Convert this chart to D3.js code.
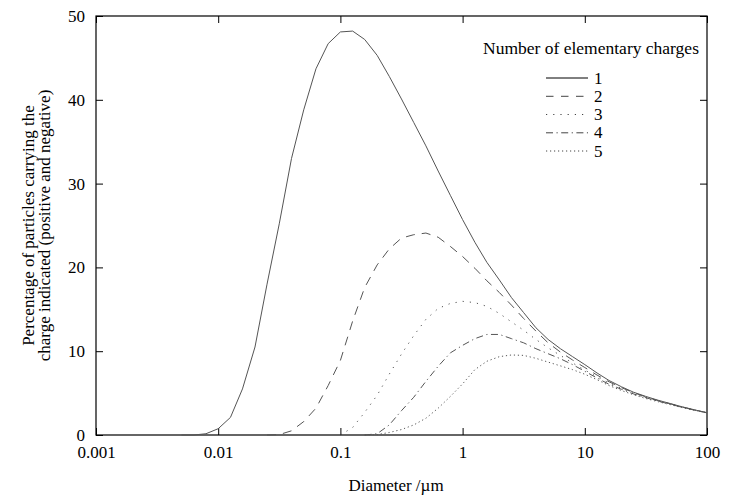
<!DOCTYPE html>
<html>
<head>
<meta charset="utf-8">
<script src="https://cdn.jsdelivr.net/npm/d3@7"></script>
<style>
  html, body { margin: 0; padding: 0; background: #fff; }
  svg { display: block; }
  text { font-family: "Liberation Serif", "Times New Roman", serif; fill: #000; }
</style>
</head>
<body>
<svg id="chart" width="729" height="495"></svg>
<script>
// Particle diameter (µm)
const diameters = [0.00501, 0.00631, 0.00794, 0.01, 0.0126, 0.0158, 0.02, 0.0251, 0.0316, 0.0398,
  0.0501, 0.0631, 0.0794, 0.1, 0.126, 0.158, 0.2, 0.251, 0.316, 0.398,
  0.501, 0.631, 0.794, 1, 1.26, 1.58, 2.0, 2.51, 3.16, 3.98,
  5.01, 6.31, 7.94, 10, 12.6, 15.8, 20, 25.1, 31.6, 39.8,
  50.1, 63.1, 79.4, 100];

// Percentage of particles carrying N charges (positive and negative)
const charge1 = [0, 0, 0.15, 0.75, 2.1, 5.5, 10.5, 18.0, 25.2, 33.0,
  38.8, 43.7, 46.7, 48.1, 48.2, 47.2, 45.3, 42.8, 40.1, 37.3,
  34.5, 31.5, 28.6, 25.7, 23.0, 20.6, 18.5, 16.4, 14.6, 12.8,
  11.4, 10.3, 9.35, 8.4, 7.4, 6.5, 5.75, 5.1, 4.6, 4.15,
  3.75, 3.35, 3.0, 2.66];
const charge2 = [null, null, null, null, null, null, null, 0, 0.05, 0.5,
  1.6, 3.2, 5.9, 8.9, 13.6, 17.6, 20.3, 22.2, 23.5, 23.9,
  24.1, 23.6, 22.5, 21.3, 19.9, 18.4, 17.0, 15.5, 13.9, 12.4,
  11.0, 9.9, 8.95, 8.05, 7.15, 6.35, 5.65, 5.05, 4.55, 4.1,
  3.72, 3.33, 2.98, 2.65];
const charge3 = [null, null, null, null, null, null, null, null, null, null,
  null, null, null, 0, 0.9, 2.7, 4.75, 7.25, 9.65, 11.85,
  13.8, 15.1, 15.7, 15.95, 15.8, 15.35, 14.5, 13.5, 12.5, 11.4,
  10.4, 9.5, 8.6, 7.75, 6.95, 6.2, 5.55, 5.0, 4.5, 4.07,
  3.7, 3.31, 2.97, 2.65];
const charge4 = [null, null, null, null, null, null, null, null, null, null,
  null, null, null, null, null, 0, 0.15, 1.2, 2.9, 4.5,
  6.4, 8.2, 9.8, 10.7, 11.5, 12.0, 12.0, 11.5, 11.0, 10.3,
  9.7, 9.1, 8.4, 7.6, 6.8, 6.05, 5.45, 4.9, 4.45, 4.03,
  3.67, 3.29, 2.96, 2.65];
const charge5 = [null, null, null, null, null, null, null, null, null, null,
  null, null, null, null, null, 0, 0.05, 0.3, 0.65, 1.2,
  2.0, 3.2, 4.6, 6.1, 7.8, 8.8, 9.35, 9.55, 9.5, 9.15,
  8.7, 8.25, 7.8, 7.25, 6.6, 5.9, 5.3, 4.8, 4.35, 3.97,
  3.62, 3.26, 2.94, 2.64];

const seriesNames = ["1", "2", "3", "4", "5"];
const seriesValues = [charge1, charge2, charge3, charge4, charge5];
const dashes = [null, "9,7", "1.2,6", "7,3.5,1.2,3.5", "1.2,2.8"];
const legendDashes = [null, "7.5,7.5", "1.2,6", "7,3.5,1.2,3.5", "1.2,2.8"];

const xTicks = [0.001, 0.01, 0.1, 1, 10, 100];
const xTickLabels = ["0.001", "0.01", "0.1", "1", "10", "100"];
const yTicks = [0, 10, 20, 30, 40, 50];

const xLabel = "Diameter /µm";
const yLabelLines = ["Percentage of particles carrying the", "charge indicated (positive and negative)"];
const legendTitle = "Number of elementary charges";

const svg = d3.select("#chart");
const pL = 96, pR = 707, pT = 16, pB = 435;

const x = d3.scaleLog().domain([0.001, 100]).range([pL, pR]);
const y = d3.scaleLinear().domain([0, 50]).range([pB, pT]);

const fs = 17;

// Axes with inward ticks
const axB = svg.append("g").attr("transform", `translate(0,${pB})`)
  .call(d3.axisBottom(x).tickValues(xTicks).tickFormat((d, i) => xTickLabels[i])
    .tickSizeInner(-7).tickSizeOuter(0).tickPadding(11));
const axT = svg.append("g").attr("transform", `translate(0,${pT})`)
  .call(d3.axisTop(x).tickValues(xTicks).tickFormat("").tickSizeInner(-7).tickSizeOuter(0));
const axL = svg.append("g").attr("transform", `translate(${pL},0)`)
  .call(d3.axisLeft(y).tickValues(yTicks).tickSizeInner(-7).tickSizeOuter(0).tickPadding(11));
const axR = svg.append("g").attr("transform", `translate(${pR},0)`)
  .call(d3.axisRight(y).tickValues(yTicks).tickFormat("").tickSizeInner(-7).tickSizeOuter(0));

[axB, axT, axL, axR].forEach(g => {
  g.select(".domain").remove();
  g.selectAll(".tick line").attr("stroke", "#000").attr("stroke-width", 1);
  g.selectAll(".tick text").attr("font-family", "Liberation Serif, Times New Roman, serif")
    .attr("font-size", fs).attr("fill", "#000");
});

// Frame
svg.append("rect").attr("x", pL).attr("y", pT)
  .attr("width", pR - pL).attr("height", pB - pT)
  .attr("fill", "none").attr("stroke", "#000").attr("stroke-width", 1.2);

// Curves
const line = d3.line()
  .defined(d => d[1] !== null)
  .x(d => x(d[0]))
  .y(d => y(d[1]));

seriesValues.forEach((vals, i) => {
  const pts = diameters.map((d, j) => [d, vals[j]]);
  svg.append("path")
    .attr("d", line(pts))
    .attr("fill", "none")
    .attr("stroke", "#555")
    .attr("stroke-width", 1)
    .attr("stroke-dasharray", dashes[i]);
});

// Axis labels
svg.append("text").attr("x", 396).attr("y", 491)
  .attr("text-anchor", "middle").attr("font-size", fs).text(xLabel);

const ylab = svg.append("g");
[28, 44].forEach((cx, i) => {
  ylab.append("text")
    .attr("transform", `translate(${cx},${(pT + pB) / 2}) rotate(-90)`)
    .attr("text-anchor", "middle").attr("dy", "0.35em")
    .attr("font-size", fs).text(yLabelLines[i]);
});

// Legend
svg.append("text").attr("x", 591).attr("y", 54)
  .attr("text-anchor", "middle").attr("font-size", 17.5).text(legendTitle);

const legendY = [78, 96.3, 114.5, 132.8, 151];
seriesNames.forEach((name, i) => {
  svg.append("line")
    .attr("x1", 546).attr("x2", 588)
    .attr("y1", legendY[i]).attr("y2", legendY[i])
    .attr("stroke", i === 0 ? "#000" : "#444").attr("stroke-width", 1)
    .attr("stroke-dasharray", legendDashes[i]);
  svg.append("text").attr("x", 594).attr("y", legendY[i] + 5.5)
    .attr("font-size", fs).text(name);
});
</script>
</body>
</html>
